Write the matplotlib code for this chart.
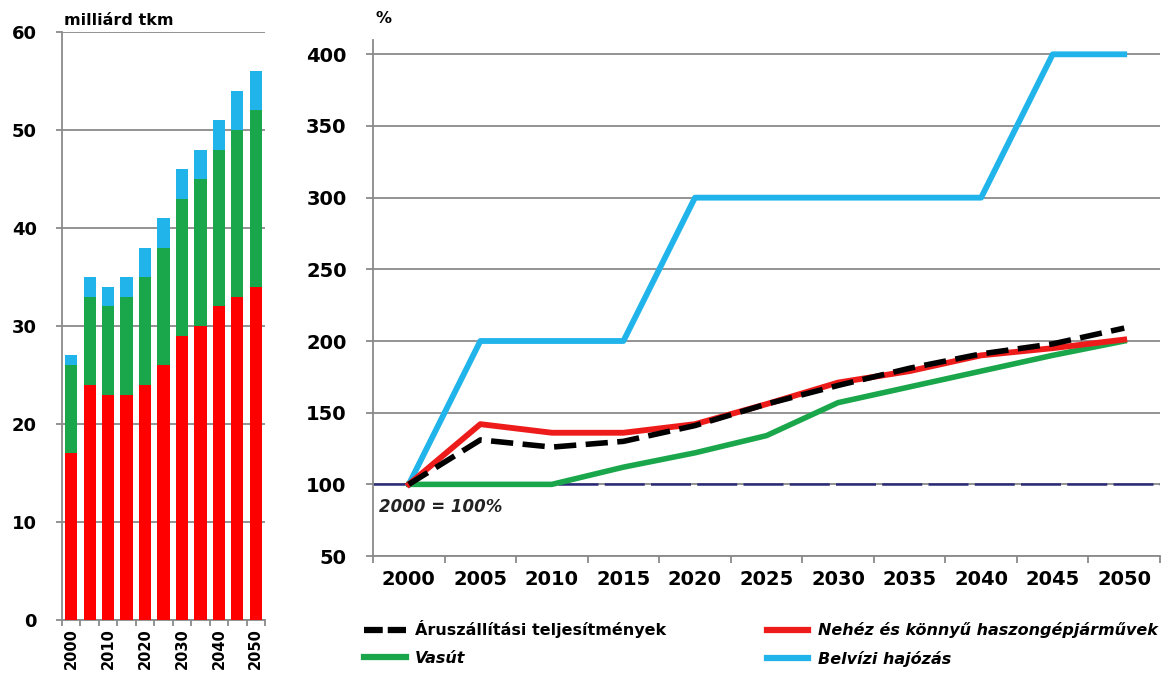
import numpy as np
import matplotlib
matplotlib.use("Agg")
from matplotlib import pyplot as plt
from matplotlib.lines import Line2D

plt.rcParams['font.family'] = ['DejaVu Sans']

# bar chart data (milliárd tkm)
bar_years = [2000, 2005, 2010, 2015, 2020, 2025, 2030, 2035, 2040, 2045, 2050]
road = [17, 24, 23, 23, 24, 26, 29, 30, 32, 33, 34]
rail = [9, 9, 9, 10, 11, 12, 14, 15, 16, 17, 18]
water = [1, 2, 2, 2, 3, 3, 3, 3, 3, 4, 4]

# line chart data (2000 = 100%)
years = ["2000", "2005", "2010", "2015", "2020", "2025", "2030", "2035", "2040", "2045", "2050"]
total_idx = [100, 131, 126, 130, 141, 156, 169, 181, 191, 198, 209]
road_idx = [100, 142, 136, 136, 142, 156, 171, 179, 190, 195, 201]
rail_idx = [100, 100, 100, 112, 122, 134, 157, 168, 179, 190, 200]
water_idx = [100, 200, 200, 200, 300, 300, 300, 300, 300, 400, 400]

RED = "#fe0000"
GREEN = "#1aa64b"
BLUE = "#20b4ea"
GRID = "#8a8a8a"

fig = plt.figure(figsize=(11.65, 6.73), dpi=100)

# ---- left: stacked bars
ax1 = fig.add_axes([0.0532, 0.0788, 0.1743, 0.8737])
x = np.arange(len(bar_years))
w = 0.66
ax1.bar(x, road, w, color=RED, zorder=3)
ax1.bar(x, rail, w, bottom=road, color=GREEN, zorder=3)
ax1.bar(x, water, w, bottom=np.add(road, rail), color=BLUE, zorder=3)
ax1.set_xlim(-0.5, len(bar_years) - 0.5)
ax1.set_ylim(0, 60)
ax1.set_yticks(range(0, 61, 10))
ax1.yaxis.grid(True, color=GRID, lw=1.3, zorder=0)
ax1.set_xticks(x[::2])
ax1.set_xticklabels([str(y) for y in bar_years[::2]], rotation=90, fontsize=10.5, fontweight="bold")
ax1.set_xticks(np.arange(-0.5, len(bar_years)), minor=True)
ax1.tick_params(axis="x", which="major", length=0, pad=6)
ax1.tick_params(axis="x", which="minor", length=4, color=GRID, width=1.3)
ax1.tick_params(axis="y", length=4, color=GRID, width=1.3, labelsize=13, pad=14)
for lab in ax1.get_yticklabels():
    lab.set_fontweight("bold")
for s in ["top", "right"]:
    ax1.spines[s].set_visible(False)
for s in ["left", "bottom"]:
    ax1.spines[s].set_color(GRID)
    ax1.spines[s].set_linewidth(1.3)
fig.text(0.055, 0.97, "milliárd tkm", fontsize=11.5, fontweight="bold", va="center", ha="left")

# ---- right: index lines
ax2 = fig.add_axes([0.3202, 0.1738, 0.6755, 0.7668])
xi = np.arange(len(years))
ax2.axhline(100, color="#2b2a78", lw=1.8, dashes=(16, 2.5), zorder=2)
ax2.plot(xi, water_idx, color=BLUE, lw=4.2, zorder=3)
ax2.plot(xi, rail_idx, color=GREEN, lw=4.0, zorder=4)
ax2.plot(xi, road_idx, color="#ee1b1b", lw=4.2, zorder=5)
ax2.plot(xi, total_idx, color="black", lw=4.0, dashes=(4, 1.7), zorder=6)
ax2.set_xlim(-0.5, len(years) - 0.5)
ax2.set_ylim(50, 410)
ax2.set_yticks(range(50, 401, 50))
ax2.yaxis.grid(True, color=GRID, lw=1.3, zorder=0)
ax2.set_xticks(xi)
ax2.set_xticklabels(years, fontsize=14, fontweight="bold")
ax2.set_xticks(np.arange(-0.5, len(years)), minor=True)
ax2.tick_params(axis="x", which="major", length=0, pad=10)
ax2.tick_params(axis="x", which="minor", length=5, color=GRID, width=1.3)
ax2.tick_params(axis="y", length=5, color=GRID, width=1.3, labelsize=14, pad=14)
for lab in ax2.get_yticklabels():
    lab.set_fontweight("bold")
for s in ["top", "right"]:
    ax2.spines[s].set_visible(False)
for s in ["left", "bottom"]:
    ax2.spines[s].set_color(GRID)
    ax2.spines[s].set_linewidth(1.3)
ax2.text(-0.42, 84, "2000 = 100%", fontsize=12, fontweight="bold", style="italic",
         color="#222222", va="center", ha="left")
fig.text(0.322, 0.972, "%", fontsize=11.5, fontweight="bold", va="center", ha="left")

handles = [
    Line2D([], [], color="black", lw=4.5, dashes=(3, 0.8)),
    Line2D([], [], color=GREEN, lw=4.5),
    Line2D([], [], color="#ee1b1b", lw=4.5),
    Line2D([], [], color=BLUE, lw=4.5),
]
labels = ["Áruszállítási teljesítmények", "Vasút",
          "Nehéz és könnyű haszongépjárművek", "Belvízi hajózás"]
leg = fig.legend(handles, labels, ncol=2, loc="upper left", bbox_to_anchor=(0.307, 0.088),
                 frameon=False, fontsize=11.5, handlelength=2.6, columnspacing=6.3,
                 labelspacing=0.8, handletextpad=0.6, borderaxespad=0)
for i, t in enumerate(leg.get_texts()):
    t.set_fontweight("bold")
    if i > 0:
        t.set_style("italic")

fig.savefig("out.png", dpi=100)
